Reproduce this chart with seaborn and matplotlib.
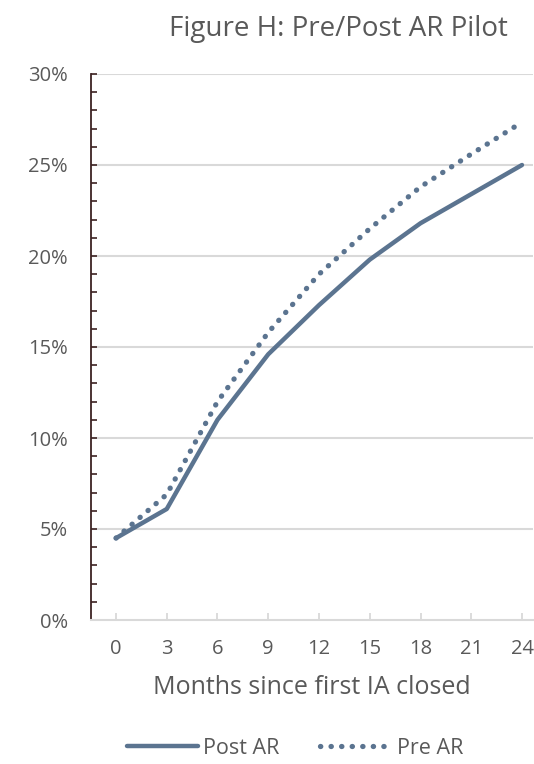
import matplotlib
matplotlib.use("Agg")
import matplotlib.pyplot as plt
import seaborn as sns
import pandas as pd
from matplotlib.ticker import MultipleLocator, FuncFormatter

months = [0, 3, 6, 9, 12, 15, 18, 21, 24]
post_ar = [0.045, 0.061, 0.110, 0.146, 0.173, 0.198, 0.218, 0.234, 0.250]
pre_ar = [0.045, 0.069, 0.120, 0.158, 0.190, 0.215, 0.238, 0.256, 0.2735]
series_names = ["Post AR", "Pre AR"]
title = "Figure H: Pre/Post AR Pilot"
xlabel = "Months since first IA closed"

sns.set_theme(style="white")
plt.rcParams['font.family'] = ['Open Sans', 'DejaVu Sans']

text_color = "#595959"
line_color = "#5b7490"
grid_color = "#d9d9d9"

df = pd.concat([
    pd.DataFrame({"month": months, "value": post_ar, "series": series_names[0]}),
    pd.DataFrame({"month": months, "value": pre_ar, "series": series_names[1]}),
])

fig = plt.figure(figsize=(5.34, 7.64), dpi=100)
ax = fig.add_axes([91/534, 1-620/764, 442/534, 546/764])

sns.lineplot(data=df[df.series == series_names[0]], x="month", y="value", ax=ax,
             color=line_color, linewidth=3.2, label=series_names[0])
sns.lineplot(data=df[df.series == series_names[1]], x="month", y="value", ax=ax,
             color=line_color, linewidth=3.8, label=series_names[1])
l_post, l_pre = ax.get_lines()[:2]
l_post.set_solid_capstyle('round')
l_pre.set_linestyle((0, (0.05, 1.95)))
l_pre.set_dash_capstyle('round')

ax.set_xlim(-25/16.917, 24 + 11/16.917)
ax.set_ylim(0, 0.30)
ax.set_xticks(months)
ax.yaxis.set_major_locator(MultipleLocator(0.05))
ax.yaxis.set_minor_locator(MultipleLocator(0.01))
ax.yaxis.set_major_formatter(FuncFormatter(lambda v, p: f"{v*100:.0f}%"))

for y in [0.05, 0.10, 0.15, 0.20, 0.25, 0.30]:
    ax.axhline(y, color=grid_color, linewidth=1.5, zorder=0)

for s in ["top", "right"]:
    ax.spines[s].set_visible(False)
ax.spines["left"].set_color("#3d2323")
ax.spines["left"].set_linewidth(1.3)
ax.spines["bottom"].set_color(grid_color)
ax.spines["bottom"].set_linewidth(1.5)

ax.tick_params(axis="y", which="both", direction="in", left=True, color="#3d2323",
               length=4, width=1.2, labelsize=14.5, labelcolor=text_color, pad=16.5)
ax.tick_params(axis="x", which="both", direction="in", bottom=True, color=grid_color,
               length=5, width=1.3, labelsize=14.5, labelcolor=text_color, pad=14)

ax.set_xlabel(xlabel, fontsize=18, color=text_color, labelpad=11)
ax.set_ylabel("")

fig.text(338/534, 1-36/764, title, ha="center", va="baseline", fontsize=20, color=text_color)

leg = ax.legend(loc="center", bbox_to_anchor=(295/534, 1-748/764), bbox_transform=fig.transFigure,
                ncol=2, frameon=False, fontsize=15.5, handlelength=3.3, handletextpad=0.25,
                columnspacing=1.9, labelcolor=text_color)

fig.savefig("out.png", dpi=100)
